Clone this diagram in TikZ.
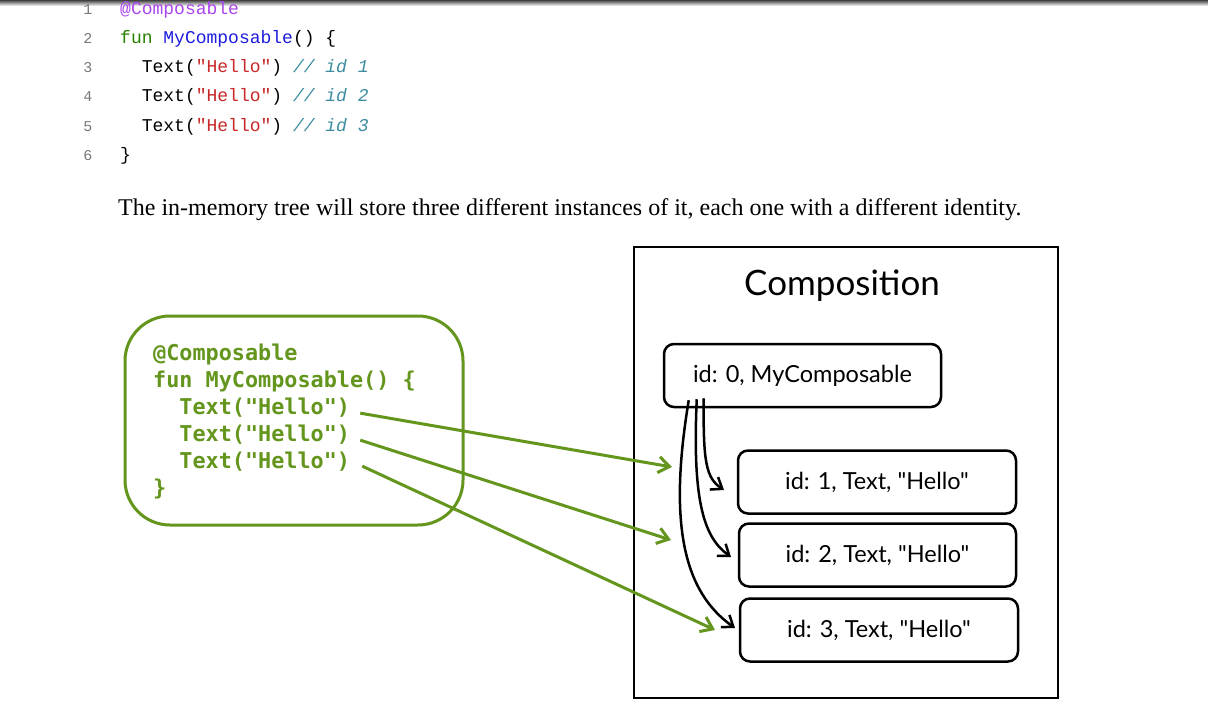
\documentclass[tikz,border=0pt]{standalone}
\usepackage{fontspec}
\setmainfont{Liberation Serif}
\newfontfamily\codefont{Liberation Mono}
\newfontfamily\gcodefont{DejaVu Sans Mono}
\newfontfamily\handfont{Lato}
\usetikzlibrary{arrows.meta}

\definecolor{kgreen}{RGB}{100,150,30}
\definecolor{annot}{RGB}{170,70,240}
\definecolor{kwgreen}{RGB}{40,130,0}
\definecolor{fnblue}{RGB}{30,30,220}
\definecolor{strred}{RGB}{200,40,40}
\definecolor{cmteal}{RGB}{60,140,160}
\definecolor{lngray}{RGB}{120,120,120}

\tikzset{
  srcline/.style={anchor=base west, inner sep=0pt, font=\codefont\fontsize{18}{18}\selectfont},
  lineno/.style={anchor=base, inner sep=0pt, text=lngray, font=\codefont\fontsize{15}{15}\selectfont},
  gline/.style={anchor=base west, inner sep=0pt, text=kgreen, font=\gcodefont\bfseries\fontsize{21.8}{21.8}\selectfont},
  idbox/.style={draw=black, line width=2.5pt, rounded corners=10pt, minimum height=63pt, inner sep=0pt, font=\handfont\fontsize{23.5}{23.5}\selectfont},
  greenarrow/.style={draw=kgreen, line width=3pt, -{Straight Barb[length=11pt,width=16pt,line width=3pt]}},
  treearrow/.style={draw=black, line width=2.5pt, -{Straight Barb[length=10pt,width=15pt,line width=2.5pt]}},
}

\begin{document}
\begin{tikzpicture}[x=1pt,y=-1pt]
  \useasboundingbox (0,0) rectangle (1208,709);
  \fill[white] (0,0) rectangle (1208,709);
  % page edge shadow
  \shade[top color=black!75, bottom color=white] (0,0) rectangle (1208,6);

  % listing with line numbers
  \foreach \n/\y in {1/15,2/44,3/73,4/102,5/131,6/160}
    \node[lineno] (ln\n) at (88,\y) {\n};
  \node[srcline] (s1) at (120,15) {\textcolor{annot}{@Composable}};
  \node[srcline] (s2) at (120,44) {\textcolor{kwgreen}{fun} \textcolor{fnblue}{MyComposable}() \{};
  \node[srcline] (s3) at (120,73) {\ \ Text(\textcolor{strred}{"Hello"}) \textcolor{cmteal}{\itshape // id 1}};
  \node[srcline] (s4) at (120,102) {\ \ Text(\textcolor{strred}{"Hello"}) \textcolor{cmteal}{\itshape // id 2}};
  \node[srcline] (s5) at (120,131) {\ \ Text(\textcolor{strred}{"Hello"}) \textcolor{cmteal}{\itshape // id 3}};
  \node[srcline] (s6) at (120,160) {\}};

  % prose line
  \node[anchor=base west, inner sep=0pt, font=\fontsize{24}{24}\selectfont] (prose) at (118,215)
    {The in-memory tree will store three different instances of it, each one with a different identity.};

  % green source box
  \draw[kgreen, line width=3pt, rounded corners=45pt] (125,316) rectangle (463,525);
  \node[gline] (g1) at (153,360) {@Composable};
  \node[gline] (g2) at (153,387) {fun MyComposable() \{};
  \node[gline] (g3) at (153,414) {\ \ Text("Hello")};
  \node[gline] (g4) at (153,441) {\ \ Text("Hello")};
  \node[gline] (g5) at (153,468) {\ \ Text("Hello")};
  \node[gline] (g6) at (153,495) {\}};

  % composition frame
  \draw[black, line width=2.5pt] (634,247) rectangle (1058,698);
  \node[inner sep=0pt, anchor=base, font=\handfont\fontsize{35}{35}\selectfont] (title) at (842,295) {Composition};

  % slot table entries
  \node[idbox, minimum width=277pt] (n0) at (802.5,375.5) {id: 0, MyComposable};
  \node[idbox, minimum width=278pt] (n1) at (877,482) {id: 1, Text, "Hello"};
  \node[idbox, minimum width=277pt] (n2) at (877.5,555) {id: 2, Text, "Hello"};
  \node[idbox, minimum width=278pt] (n3) at (879,630) {id: 3, Text, "Hello"};

  % parent to children
  \coordinate (c1) at (724,490);
  \coordinate (c2) at (731,557);
  \coordinate (c3) at (735,628);
  \draw[treearrow] ([xshift=41pt,yshift=10pt]n0.south west) .. controls (703,462) and (706,478) .. (c1);
  \draw[treearrow] ([xshift=34pt,yshift=9pt]n0.south west) .. controls (692,505) and (705,538) .. (c2);
  \draw[treearrow] ([xshift=26pt,yshift=8pt]n0.south west) .. controls (668,525) and (684,592) .. (c3);

  % source calls to their slots
  \coordinate (e1) at (672,467);
  \coordinate (e2) at (671,540);
  \coordinate (e3) at (715,630);
  \draw[greenarrow] ([xshift=10pt,yshift=-6pt]g3.east) -- (e1);
  \draw[greenarrow] ([xshift=10pt,yshift=-6pt]g4.east) -- (e2);
  \draw[greenarrow] ([xshift=12pt,yshift=-5pt]g5.east) -- (e3);
\end{tikzpicture}
\end{document}
